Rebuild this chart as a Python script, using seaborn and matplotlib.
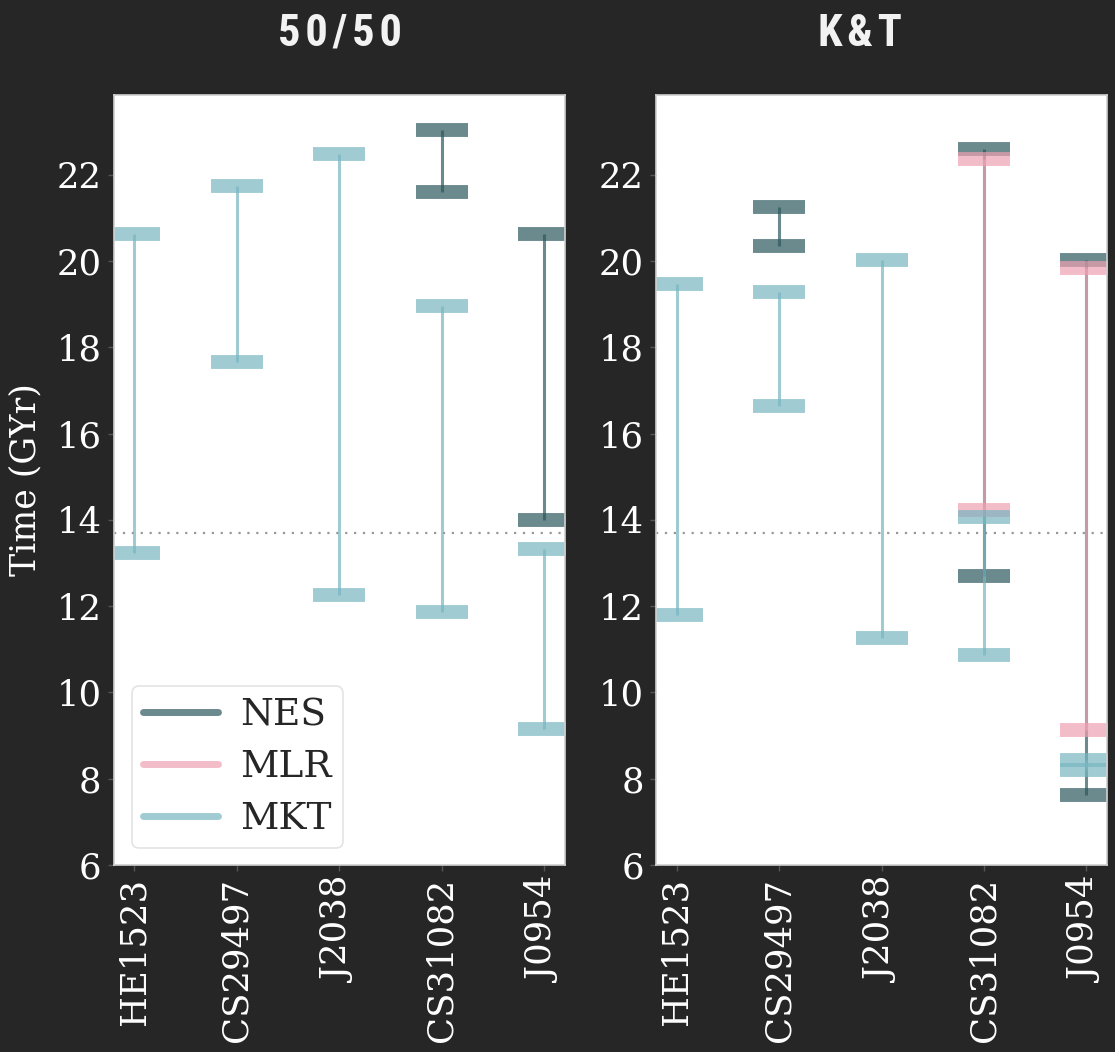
import numpy as np
import matplotlib
matplotlib.use("Agg")
import matplotlib.pyplot as plt
from matplotlib.lines import Line2D
import seaborn as sns

# Stars and age ranges (GYr) for each method; NaN where a method gives no range
stars = ["HE1523", "CS29497", "J2038", "CS31082", "J0954"]
nan = np.nan

nes_5050_low = [nan, nan, nan, 21.60, 14.00]
nes_5050_high = [nan, nan, nan, 23.05, 20.62]
mlr_5050_low = [nan, nan, nan, nan, nan]
mlr_5050_high = [nan, nan, nan, nan, nan]
mkt_5050_low = [13.23, 17.65, 12.25, 11.86, 9.15]
mkt_5050_high = [20.62, 21.74, 22.48, 18.95, 13.32]

nes_kt_low = [nan, 20.34, nan, 12.69, 7.62]
nes_kt_high = [nan, 21.26, nan, 22.59, 20.02]
mlr_kt_low = [nan, nan, nan, 14.23, 9.13]
mlr_kt_high = [nan, nan, nan, 22.36, 19.83]
mkt_kt_low = [11.79, 16.64, 11.27, 10.88, 8.20]
mkt_kt_high = [19.46, 19.28, 20.02, 14.07, 8.44]

panel_titles = ["50/50", "K&T"]
method_names = ["NES", "MLR", "MKT"]
universe_age = 13.7

BG = "#262626"
colors = {"NES": "#2c585d", "MLR": "#efa0b2", "MKT": "#78b6c1"}

sns.set_style("white")
plt.rcParams["font.family"] = ["DejaVu Serif"]
plt.rcParams["axes.edgecolor"] = "#cfcfcf"
plt.rcParams["axes.linewidth"] = 1.2

fig, axes = plt.subplots(1, 2, figsize=(11.15, 10.52), dpi=100, sharey=False)
fig.patch.set_facecolor(BG)
fig.subplots_adjust(left=0.1022, right=0.9928, bottom=0.1777, top=0.9097, wspace=0.204)

panels = [
    {"NES": (nes_5050_low, nes_5050_high), "MLR": (mlr_5050_low, mlr_5050_high),
     "MKT": (mkt_5050_low, mkt_5050_high)},
    {"NES": (nes_kt_low, nes_kt_high), "MLR": (mlr_kt_low, mlr_kt_high),
     "MKT": (mkt_kt_low, mkt_kt_high)},
]

x = np.arange(len(stars))
for ax, ranges in zip(axes, panels):
    ax.set_facecolor("white")
    for name in method_names:
        lo = np.asarray(ranges[name][0], dtype=float)
        hi = np.asarray(ranges[name][1], dtype=float)
        mid = (lo + hi) / 2
        half = (hi - lo) / 2
        ax.errorbar(x, mid, yerr=half, fmt="none", ecolor=colors[name],
                    elinewidth=2.2, capsize=19, capthick=10, alpha=0.7)
    ax.axhline(universe_age, color="#999999", linestyle=(0, (1, 3)), linewidth=1.6, zorder=0.5)
    ax.set_xlim(-0.2, 4.2)
    ax.set_ylim(6, 23.85)
    ax.set_yticks(np.arange(6, 23, 2))
    ax.set_xticks(x)
    ax.set_xticklabels(stars, rotation=90)
    ax.tick_params(axis="both", colors="#555555", labelcolor="white", labelsize=25.5,
                   length=4, width=1, pad=5, left=True, bottom=True)
    for s in ax.spines.values():
        s.set_color("#cfcfcf")

axes[0].set_ylabel("Time (GYr)", color="white", fontsize=25, labelpad=10)

handles = [Line2D([0], [0], color=colors[n], lw=5, alpha=0.7) for n in method_names]
leg = axes[0].legend(handles, method_names, loc="lower left",
                     bbox_to_anchor=(0.039, 0.022), borderaxespad=0,
                     fontsize=27, labelspacing=0.42, handlelength=2.0,
                     handletextpad=0.6, frameon=True, borderpad=0.3)
leg.get_frame().set_edgecolor("#dddddd")
leg.get_frame().set_linewidth(1.2)

title_font = ["Roboto Condensed", "Liberation Sans Narrow", "Roboto", "DejaVu Sans"]
for xpos, t in zip([0.305, 0.771], panel_titles):
    fig.text(xpos, 0.968, "\u200a".join(t), ha="center", va="center", color="#f2f2f2",
             fontsize=32, fontweight="bold", family=title_font)

fig.savefig("out.png", dpi=100, facecolor=BG)
